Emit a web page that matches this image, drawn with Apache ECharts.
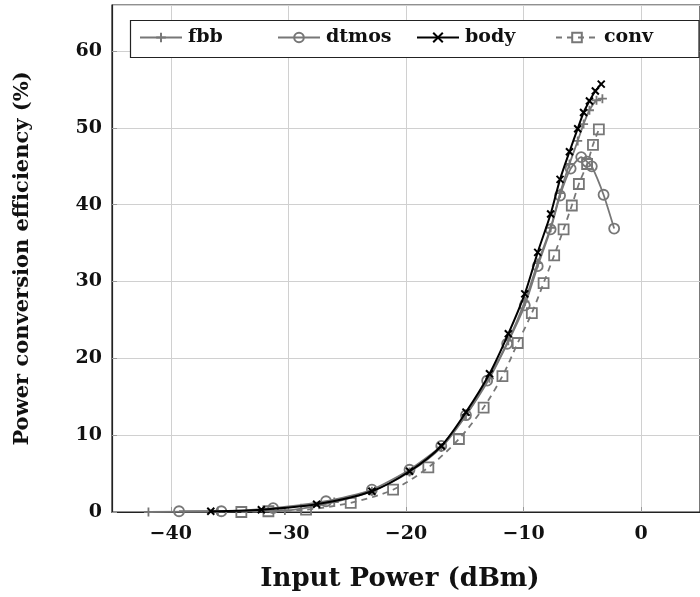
<!DOCTYPE html>
<html>
<head>
<meta charset="utf-8">
<script src="https://cdn.jsdelivr.net/npm/echarts@6/dist/echarts.min.js"></script>
<style>
  html, body { margin: 0; padding: 0; background: #fff; }
  #chart { width: 700px; height: 597px; }
</style>
</head>
<body>
<div id="chart"></div>
<script>
// values
const seriesNames = ["fbb", "dtmos", "body", "conv"];

const fbbX = [-41.9, -36.0, -30.3, -26.1, -22.9, -19.7, -17.0, -14.9, -12.9, -11.3, -9.9, -8.8, -7.7, -6.9, -6.1, -5.4, -4.9, -4.4, -3.8, -3.3];
const fbbY = [0.0, 0.1, 0.2, 1.3, 2.7, 5.2, 8.4, 12.6, 17.4, 22.3, 27.4, 32.4, 37.0, 41.5, 45.3, 48.3, 50.5, 52.3, 53.6, 53.8];

const dtmosX = [-39.3, -35.7, -31.3, -26.8, -22.9, -19.7, -17.0, -14.9, -13.1, -11.4, -9.9, -8.8, -7.7, -6.9, -6.0, -5.1, -4.6, -4.2, -3.2, -2.3];
const dtmosY = [0.1, 0.1, 0.5, 1.4, 2.9, 5.5, 8.6, 12.6, 17.1, 21.9, 26.9, 32.0, 36.8, 41.2, 44.7, 46.2, 45.6, 45.0, 41.3, 36.9];

const bodyX = [-36.6, -32.3, -27.6, -22.9, -19.7, -17.0, -14.9, -12.9, -11.3, -9.9, -8.8, -7.7, -6.9, -6.1, -5.4, -4.9, -4.4, -3.9, -3.4];
const bodyY = [0.1, 0.3, 1.0, 2.7, 5.3, 8.6, 13.0, 18.0, 23.2, 28.4, 33.8, 38.8, 43.3, 46.9, 49.9, 52.0, 53.5, 54.8, 55.7];

const convX = [-34.0, -31.7, -28.5, -24.7, -21.1, -18.1, -15.5, -13.4, -11.8, -10.5, -9.3, -8.3, -7.4, -6.6, -5.9, -5.3, -4.6, -4.1, -3.6];
const convY = [0.0, 0.1, 0.3, 1.2, 2.9, 5.8, 9.5, 13.6, 17.7, 22.0, 25.9, 29.8, 33.4, 36.8, 39.9, 42.7, 45.3, 47.8, 49.8];

const zip = (xs, ys) => xs.map((x, i) => [x, ys[i]]);

const FONT = "DejaVu Serif";
const GRAY = "#777";
const minus = v => String(v).replace("-", "\u2212");

let mychart = echarts.init(document.getElementById("chart"));

const legendLeft = [139, 277, 416, 555];
const legends = seriesNames.map((n, i) => ({
  data: [n],
  left: legendLeft[i],
  top: 28,
  z: 20,
  padding: 0,
  itemWidth: 42,
  itemHeight: 12,
  itemGap: 0,
  selectedMode: false,
  textStyle: { fontFamily: FONT, fontWeight: "bold", fontSize: 19, color: "#111", padding: [0, 0, 0, 1] }
}));

const plus = "path://M0,5L10,5M5,0L5,10";
const cross = "path://M0,0L10,10M10,0L0,10";

let option = {
  animation: false,
  grid: {
    left: 112, top: 5, width: 600, height: 510,
    show: true, borderColor: "#222", borderWidth: 1.2, backgroundColor: "transparent"
  },
  legend: legends,
  graphic: [{
    type: "rect",
    shape: { x: 130.5, y: 20.5, width: 568.5, height: 37 },
    style: { fill: "#fff", stroke: "#222", lineWidth: 1.2 },
    z: 10
  }],
  xAxis: {
    type: "value",
    min: -45, max: 5,
    splitNumber: 5,
    name: "Input Power (dBm)",
    nameLocation: "middle",
    nameGap: 54,
    nameTextStyle: { fontFamily: FONT, fontWeight: "bold", fontSize: 26, color: "#111", padding: [0, 12, 0, 0] },
    axisLine: { show: true, onZero: false, lineStyle: { color: "#222", width: 1.2 } },
    axisTick: { show: true, inside: true, length: 5, lineStyle: { color: "#999" } },
    axisLabel: {
      showMinLabel: false, showMaxLabel: false, margin: 13,
      fontFamily: FONT, fontWeight: "bold", fontSize: 19, color: "#111",
      formatter: minus
    },
    splitLine: { show: true, lineStyle: { color: "#d0d0d0", width: 1 } }
  },
  yAxis: {
    type: "value",
    min: 0, max: 66, interval: 10,
    name: "Power conversion efficiency (%)",
    nameLocation: "middle",
    nameGap: 79,
    nameTextStyle: { fontFamily: FONT, fontWeight: "bold", fontSize: 21, color: "#111" },
    axisLine: { show: true, onZero: false, lineStyle: { color: "#222", width: 1.2 } },
    axisTick: { show: true, inside: true, length: 5, lineStyle: { color: "#999" } },
    axisLabel: {
      showMaxLabel: false, margin: 10,
      fontFamily: FONT, fontWeight: "bold", fontSize: 19, color: "#111"
    },
    splitLine: { show: true, lineStyle: { color: "#d0d0d0", width: 1 } }
  },
  series: [
    {
      name: "fbb", type: "line", data: zip(fbbX, fbbY),
      smooth: 0.3, symbol: plus, symbolSize: 9, showAllSymbol: true,
      lineStyle: { color: GRAY, width: 1.8 },
      itemStyle: { color: GRAY, borderColor: GRAY, borderWidth: 1.8 },
      z: 2
    },
    {
      name: "dtmos", type: "line", data: zip(dtmosX, dtmosY),
      smooth: 0.2, symbol: "circle", symbolSize: 10, showAllSymbol: true,
      lineStyle: { color: GRAY, width: 1.8 },
      itemStyle: { color: "rgba(0,0,0,0)", borderColor: GRAY, borderWidth: 1.8 },
      z: 3
    },
    {
      name: "body", type: "line", data: zip(bodyX, bodyY),
      smooth: 0.3, symbol: cross, symbolSize: 7, showAllSymbol: true,
      lineStyle: { color: "#000", width: 2 },
      itemStyle: { color: "#000", borderColor: "#000", borderWidth: 2 },
      z: 4
    },
    {
      name: "conv", type: "line", data: zip(convX, convY),
      smooth: 0.3, symbol: "rect", symbolSize: 10, showAllSymbol: true,
      lineStyle: { color: GRAY, width: 1.8, type: [6, 5] },
      itemStyle: { color: "rgba(0,0,0,0)", borderColor: GRAY, borderWidth: 1.8 },
      z: 1
    }
  ]
};

mychart.setOption(option);
</script>
</body>
</html>
